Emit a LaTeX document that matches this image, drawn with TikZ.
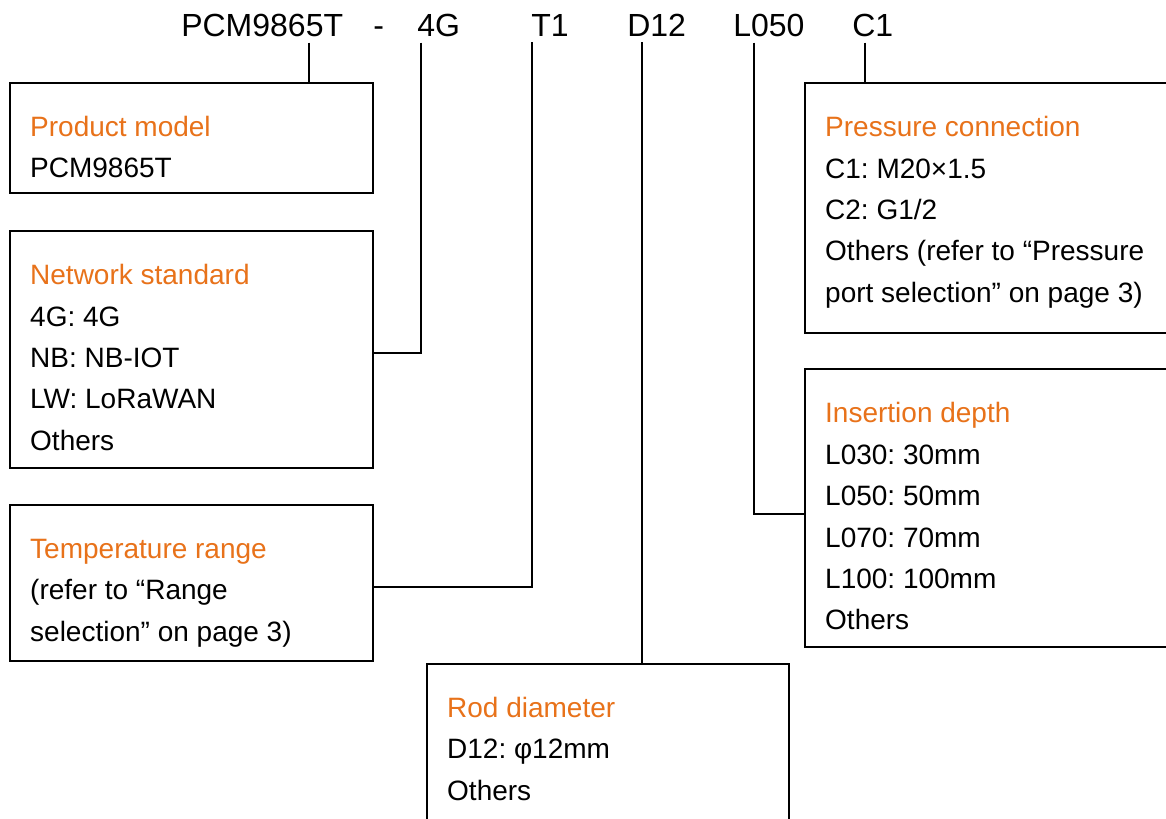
\documentclass[tikz,border=0pt]{standalone}
\usepackage{fontspec}
\setmainfont{Liberation Sans}
\frenchspacing
\usetikzlibrary{calc,positioning,fit}
\definecolor{titleorange}{RGB}{232,114,26}

\begin{document}
\begin{tikzpicture}[x=0.75pt,y=-0.75pt,
  code/.style={font=\fontsize{24}{28}\selectfont, anchor=base west, inner xsep=0pt, inner ysep=4.5pt},
  box/.style={draw, line width=1.6pt, inner sep=0pt},
  boxtext/.style={font=\fontsize{21}{31.1}\selectfont, align=left, anchor=base west, inner sep=0pt},
  link/.style={line width=2.1pt}]
\pgfmathsetmacro{\padx}{21}  
\pgfmathsetmacro{\firstline}{54.5}  
\pgfmathsetmacro{\lsk}{41.5}  
\clip (0,0) rectangle (1166,818);
\fill[white] (0,0) rectangle (1166,818);
% model code
\node[code] (pcm) at (181,36) {PCM9865T};
\node[code] (dash) at (373,36) {-};
\node[code] (g4) at (417,36) {4G};
\node[code] (t1) at (531,36) {T1};
\node[code] (d12) at (627,36) {D12};
\node[code] (l050) at (733,36) {L050};
\node[code] (c1) at (852,36) {C1};
% boxes
\node[box, fit={(10,83) (373,193)}] (pm) {};
\node[box, fit={(10,231) (373,468)}] (net) {};
\node[box, fit={(10,505) (373,661)}] (temp) {};
\node[box, fit={(427,664) (789,840)}] (rod) {};
\node[box, fit={(805,83) (1180,333)}] (pc) {};
\node[box, fit={(805,369) (1180,647)}] (ins) {};
% texts (anchored at the baseline of the last line)
\node[boxtext] (pmtext) at ($(pm.north west)+(\padx,\firstline+1*\lsk)$) {\textcolor{titleorange}{Product model}\\PCM9865T};
\node[boxtext] (nettext) at ($(net.north west)+(\padx,\firstline+4*\lsk)$) {\textcolor{titleorange}{Network standard}\\4G: 4G\\NB: NB-IOT\\LW: LoRaWAN\\Others};
\node[boxtext] (temptext) at ($(temp.north west)+(\padx,\firstline+2*\lsk)$) {\textcolor{titleorange}{Temperature range}\\(refer to “Range\\selection” on page 3)};
\node[boxtext] (rodtext) at ($(rod.north west)+(\padx,\firstline+2*\lsk)$) {\textcolor{titleorange}{Rod diameter}\\D12: φ12mm\\Others};
\node[boxtext] (pctext) at ($(pc.north west)+(\padx,\firstline+4*\lsk)$) {\textcolor{titleorange}{Pressure connection}\\C1: M20×1.5\\C2: G1/2\\Others (refer to “Pressure\\port selection” on page 3)};
\node[boxtext] (instext) at ($(ins.north west)+(\padx,\firstline+5*\lsk)$) {\textcolor{titleorange}{Insertion depth}\\L030: 30mm\\L050: 50mm\\L070: 70mm\\L100: 100mm\\Others};
% connectors
\draw[link] (pcm.south -| 309,0) -- (pm.north -| 309,0);
\draw[link] (g4.south -| 421,0) |- (net.east |- 0,353);
\draw[link] (t1.south -| 532,0) |- (temp.east |- 0,587);
\draw[link] (d12.south -| 642,0) -- (rod.north -| 642,0);
\draw[link] (l050.south -| 754,0) |- (ins.west |- 0,514);
\draw[link] (c1.south -| 865,0) -- (pc.north -| 865,0);
\end{tikzpicture}
\end{document}
